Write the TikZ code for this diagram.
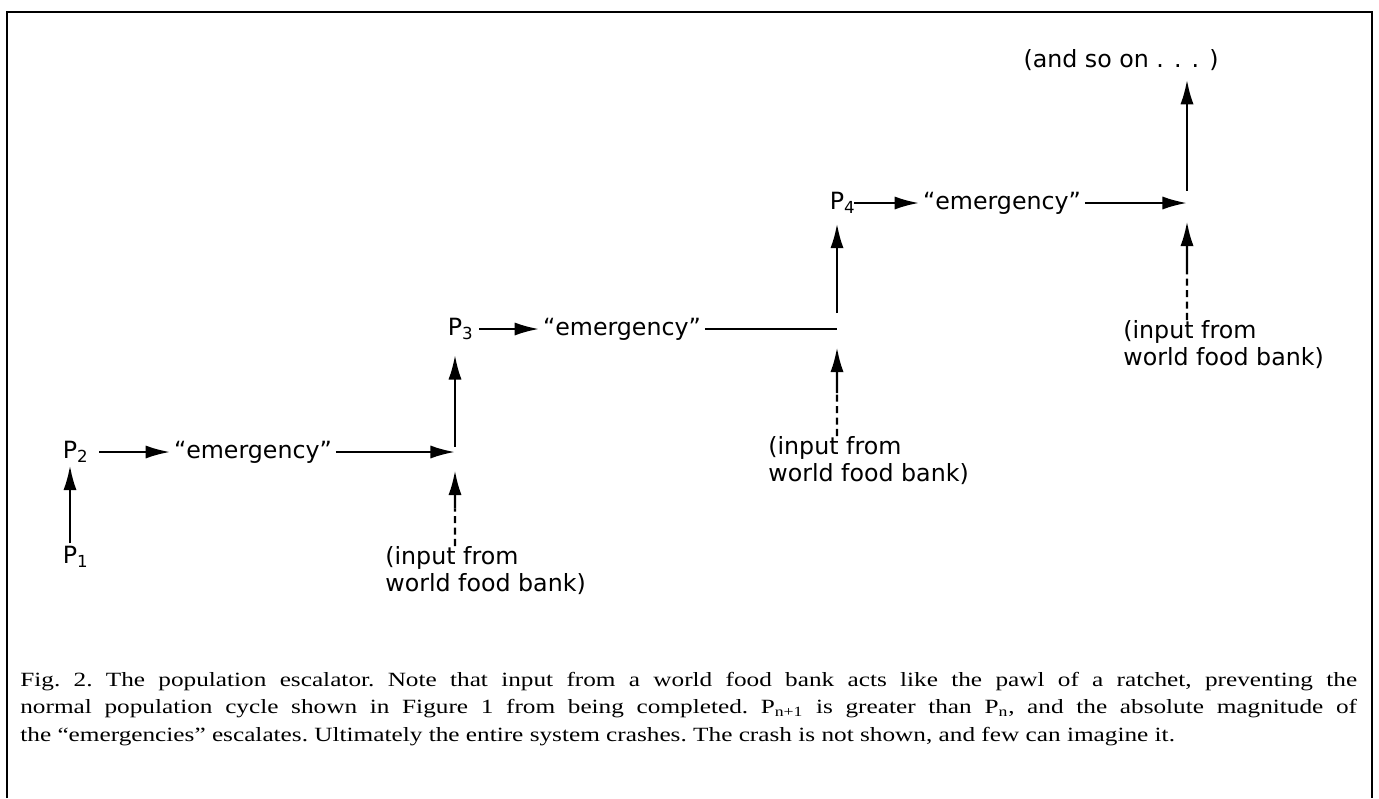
\documentclass[tikz,border=0pt]{standalone}
\usepackage{fontspec}
\setmainfont{DejaVu Sans}
\newfontfamily\capfont[FakeStretch=1.25]{Liberation Serif}
\usetikzlibrary{arrows.meta,calc}

\begin{document}
\begin{tikzpicture}[x=0.02cm, y=-0.02cm,
    lbl/.style={font=\fontsize{13.5}{15.3}\selectfont, inner sep=2pt},
    pnode/.style={lbl, inner sep=1.5pt},
    food/.style={lbl, align=left, inner sep=0pt, anchor=north west},
    flow/.style={line width=1.4pt, -{Latex[length=14pt,width=7.5pt]}},
    feed/.style={line width=1.4pt, dash pattern=on 4pt off 2.5pt}]

    % Page and frame
    \useasboundingbox (0,0) rectangle (1379,798);
    \draw[line width=0.8pt] (7,798) -- (7,12) -- (1372,12) -- (1372,798);
    \draw[line width=1.6pt] (7,12) -- (1372,12);

    % Population levels
    \node[pnode] (p1) at (70,557) {P\rlap{\textsubscript{1}}};
    \node[pnode] (p2) at (70,452) {P\rlap{\textsubscript{2}}};
    \node[pnode] (p3) at (455,329) {P\rlap{\textsubscript{3}}};
    \node[pnode] (p4) at (837,203) {P\rlap{\textsubscript{4}}};

    % Emergencies
    \node[lbl] (em1) at (253,452) {“emergency”};
    \node[lbl] (em2) at (622,329) {“emergency”};
    \node[lbl] (em3) at (1002,203) {“emergency”};

    % Where the food comes in
    \coordinate (j1) at (455,452);
    \coordinate (j2) at (837,329);
    \coordinate (j3) at (1187,203);

    \node[food] (in1) at (385,546) {(input from\\world food bank)};
    \node[food] (in2) at (768,436) {(input from\\world food bank)};
    \node[food] (in3) at (1123,320) {(input from\\world food bank)};
    \node[lbl] (more) at (1121,60) {(and so on . . . )};

    % The escalator
    \draw[flow] (p1) -- (p2);
    \draw[flow, shorten <=11pt] (p2) -- (em1);
    \draw[flow] (em1) -- (j1);
    \draw[flow, shorten <=3pt, shorten >=7pt] (j1) -- (p3);
    \draw[flow, shorten <=8pt] (p3) -- (em2);
    \draw[line width=1.4pt] (em2) -- (j2);
    \draw[flow, shorten <=9pt, shorten >=4pt] (j2) -- (p4);
    \draw[flow, shorten <=4pt] (p4) -- (em3);
    \draw[flow] (em3) -- (j3);
    \draw[flow, shorten <=7pt, shorten >=3pt] (j3) -- (j3 |- more.south);

    % Food bank inputs
    \foreach \i in {1,2,3} {
        \draw[feed] (in\i.north -| j\i) -- ($(in\i.north -| j\i)!0.4!(j\i)$) coordinate (k\i);
        \draw[flow, shorten >=10.5pt] (k\i) -- (j\i);
    }

    % Caption
    \node[anchor=north west, inner sep=0pt, text width=26.74cm, align=justify,
          font=\capfont\fontsize{11.5}{15.5}\selectfont\frenchspacing] (caption) at (20,672)
        {Fig. 2. The population escalator. Note that input from a world food bank acts like the pawl of a ratchet, preventing the\linebreak
         normal population cycle shown in Figure 1 from being completed. P\textsubscript{n+1} is greater than P\textsubscript{n}, and the absolute magnitude of\linebreak
         the “emergencies” escalates. Ultimately the entire system crashes. The crash is not shown, and few can imagine it.};

\end{tikzpicture}
\end{document}
